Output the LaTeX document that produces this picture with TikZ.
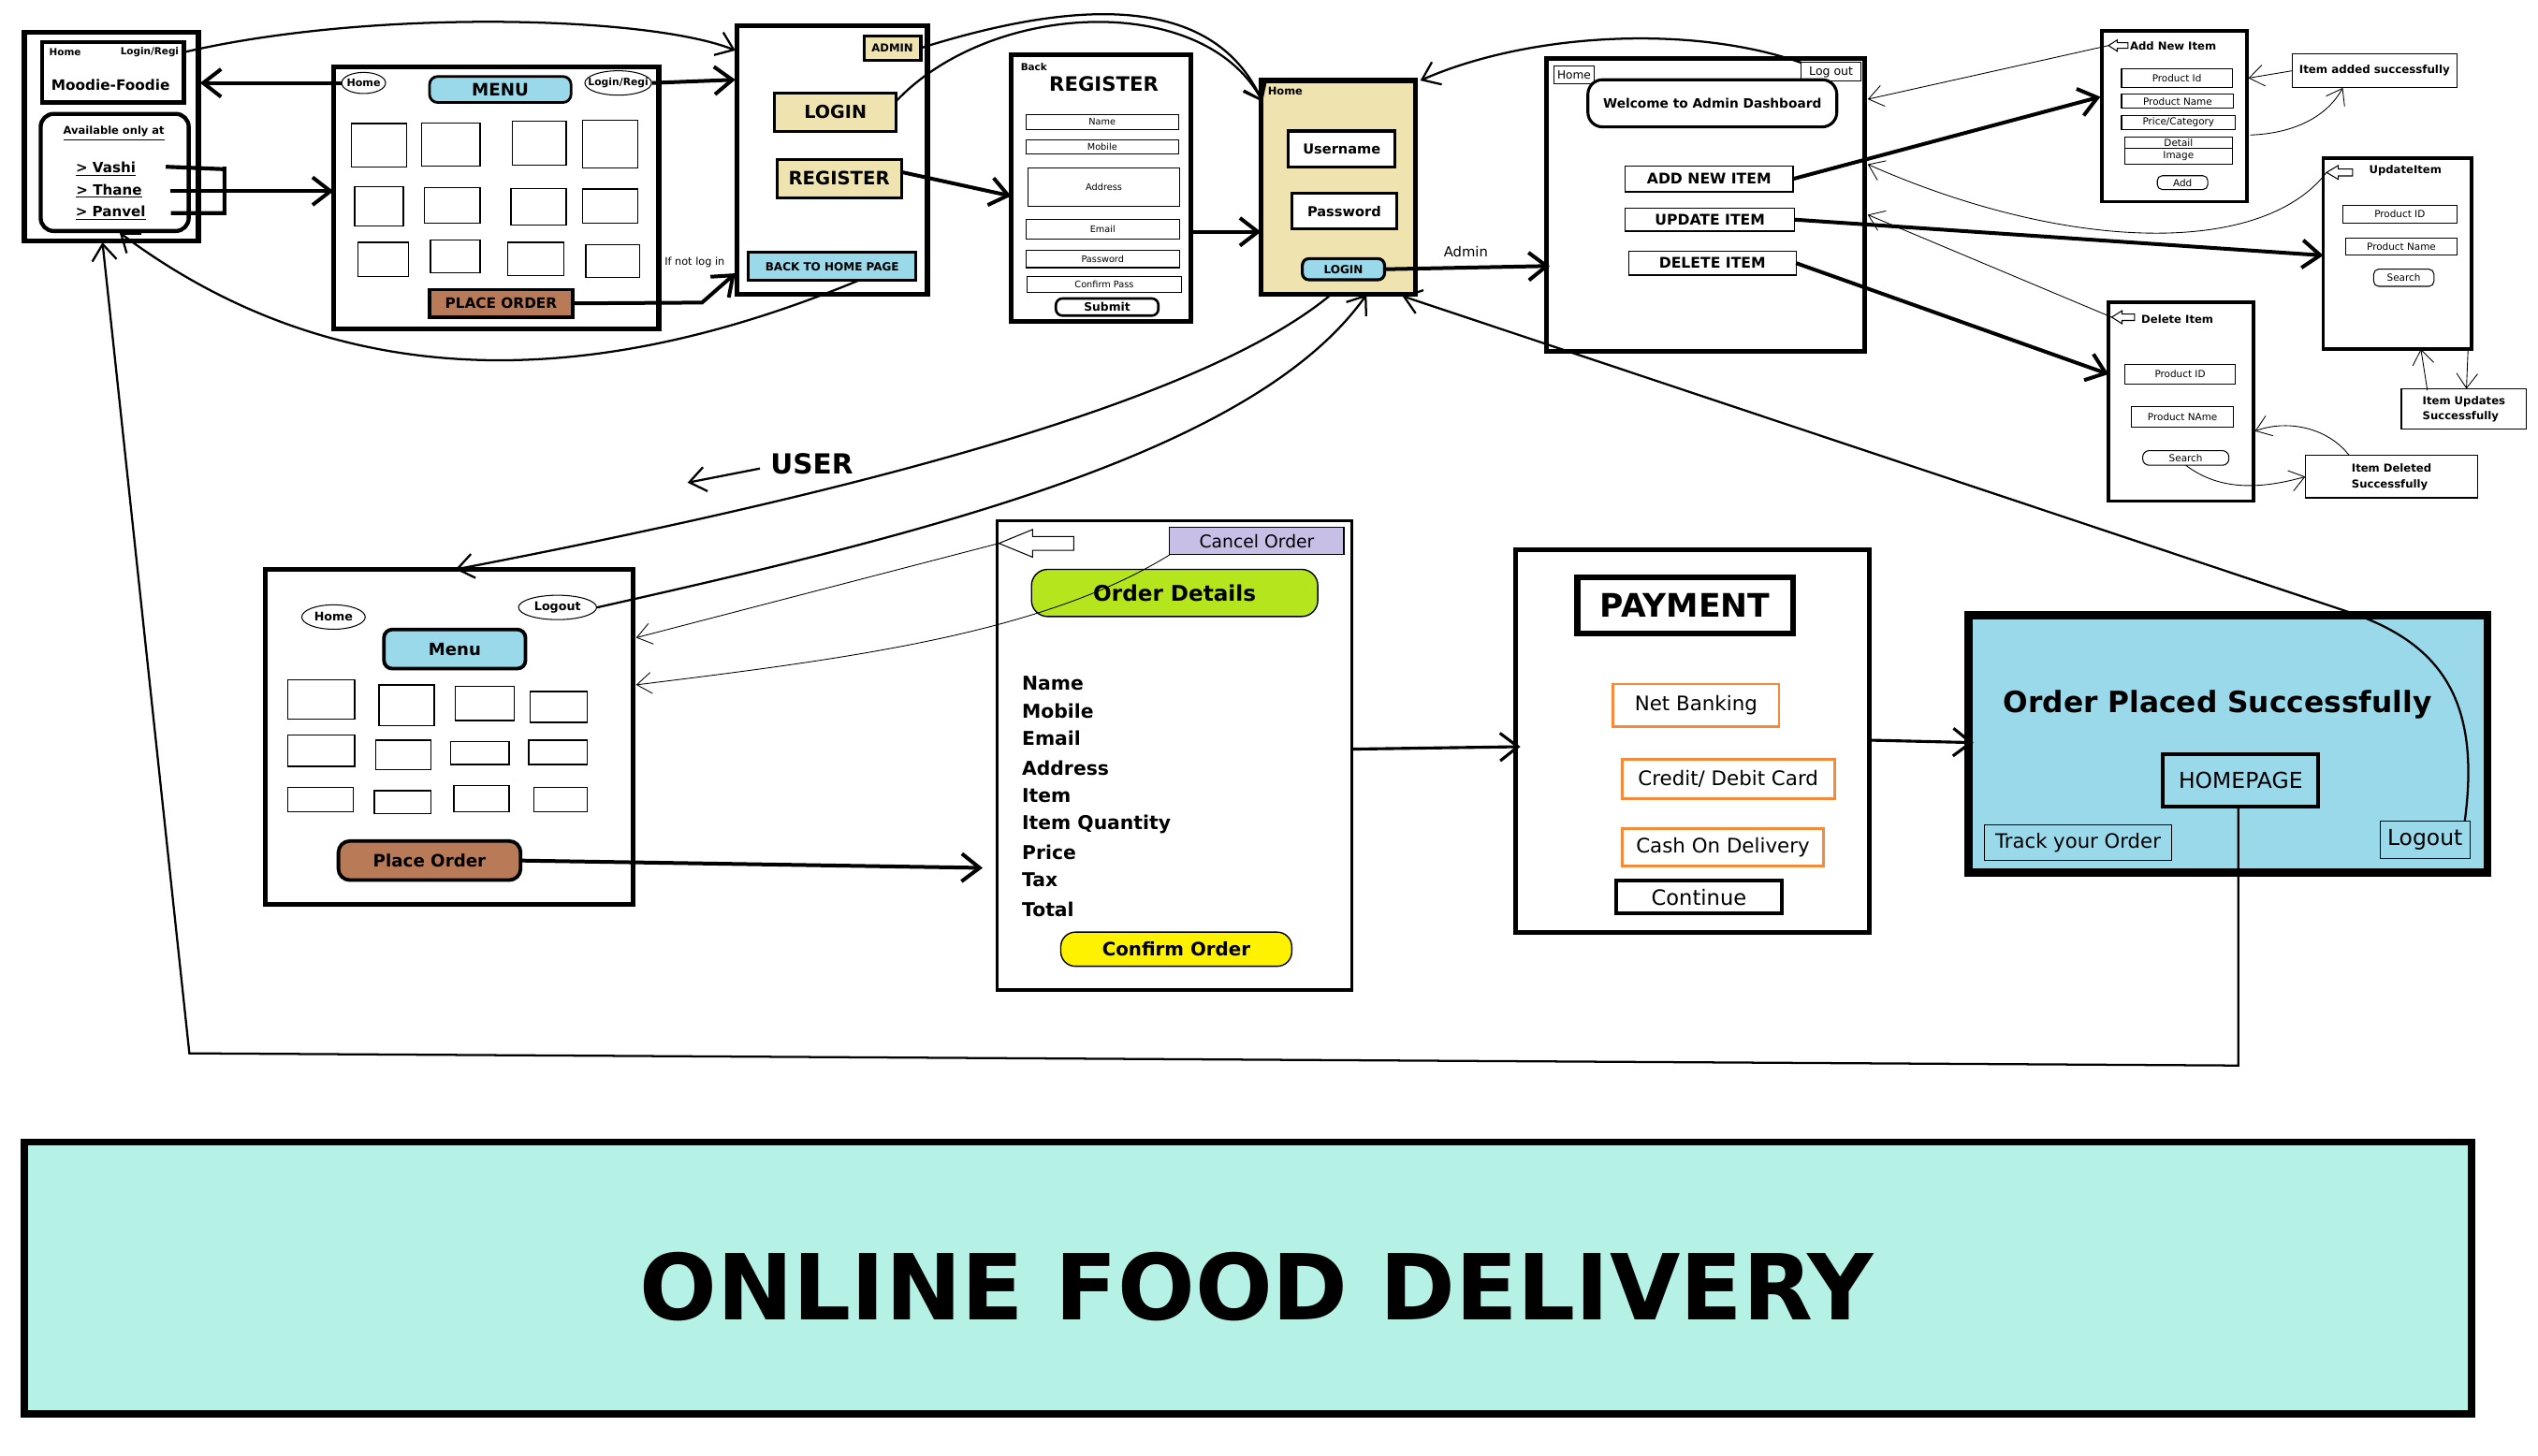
\documentclass[tikz,border=0pt]{standalone}
\usepackage{fontspec}
\setmainfont{DejaVu Sans}
\usetikzlibrary{arrows.meta,shapes.geometric,calc}
\newcommand\fsz[1]{\fontsize{#1}{#1}\selectfont}
\newcommand\mybox[7]{\node[#2,anchor=north west,inner sep=0pt,outer sep=0pt,minimum width={(#5)-(#3)},minimum height={(#6)-(#4)}] (#1) at (#3,#4) {#7};}
\newcommand\backicon[4]{\draw[line width=0.6pt,fill=white] (#1,#2) -- ++({0.45*#3},{-0.5*#4}) -- ++(0,{0.25*#4}) -- ++({0.55*#3},0) -- ++(0,{0.5*#4}) -- ++({-0.55*#3},0) -- ++(0,{0.25*#4}) -- cycle;}
\definecolor{cblue}{HTML}{99D9EA}
\definecolor{ctan}{HTML}{EFE4B0}
\definecolor{cbrown}{HTML}{B97A57}
\definecolor{cgreen}{HTML}{B5E61D}
\definecolor{cyellow}{HTML}{FFF200}
\definecolor{clav}{HTML}{C8BFE7}
\definecolor{corange}{HTML}{F58A3A}
\definecolor{cbanner}{HTML}{B6F1E6}
\begin{document}
\begin{tikzpicture}[x=1pt,y=-1pt,
  frame/.style={draw,line width=3pt},
  arr/.style={line width=2.3pt,-{Straight Barb[length=11pt,width=17pt]}},
  arrb/.style={line width=1.8pt,-{Straight Barb[length=11pt,width=17pt]}},
  marr/.style={line width=1.3pt,-{Straight Barb[length=10pt,width=15pt]}},
  harr/.style={line width=0.5pt,-{Straight Barb[length=9pt,width=13pt]}},
  sq/.style={line width=0.8pt},
  fld/.style={draw,line width=0.6pt,font=\fsz{5.6}},
  fldb/.style={draw,line width=0.6pt,font=\fsz{6}},
  oran/.style={draw=corange,line width=1.6pt,font=\fsz{12.3}},
  ell/.style={draw,ellipse,line width=0.6pt,inner sep=0pt}]
\useasboundingbox (0,0) rectangle (1560,895);
\fill[white] (0,0) rectangle (1560,895);

% ---------- A : home page ----------
\mybox{A}{frame}{15}{20}{122}{148}{}
\mybox{Atop}{draw,line width=2.5pt}{26}{26}{113}{63}{}
\node[font=\fsz{6}\bfseries] (aHome) at (40,32) {Home};
\node[font=\fsz{6}\bfseries] (aLogin) at (92,32) {Login/Regi};
\node[font=\fsz{8.8}\bfseries] (aTitle) at (68,52) {Moodie-Foodie};
\mybox{Aloc}{draw,line width=2.5pt,rounded corners=8pt}{25}{70}{116}{142}{}
\node[font=\fsz{6.6}\bfseries] (aAvail) at (70,82) {\underline{Available only at}};
\node[font=\fsz{8.7}\bfseries] (vashi) at (65,104) {\underline{> Vashi}};
\node[font=\fsz{8.7}\bfseries] (thane) at (67,117.5) {\underline{> Thane}};
\node[font=\fsz{8.7}\bfseries] (panvel) at (68,131) {\underline{> Panvel}};

% ---------- B : menu ----------
\mybox{B}{frame}{205}{41}{405}{202}{}
\node[ell,minimum width=27,minimum height=13] (mHome) at (223.5,51) {};
\node[font=\fsz{6.4}\bfseries] at (mHome) {Home};
\mybox{mMenu}{draw,line width=1.6pt,fill=cblue,rounded corners=5pt,font=\fsz{10.5}\bfseries}{264}{47}{351}{63}{MENU}
\node[ell,minimum width=41,minimum height=15] (mLogin) at (380,51) {};
\node[font=\fsz{6.2}\bfseries] at (mLogin) {Login/Regi};
\foreach \xa/\ya/\xb/\yb in {216/76/250/102.6, 259/75.5/295/102, 315/74.4/348/101.6, 358/73.8/392/103.2,
  218/114.7/248/138.8, 261/115.2/295/137.3, 314/115.8/348/138.2, 358/116.2/392/137.3,
  220/149/251/170, 264.5/147.4/295/167.8, 312/149/346.6/169.5, 360/150.3/393/170.6}
  \draw[sq] (\xa,\ya) rectangle (\xb,\yb);
\mybox{mPO}{draw,line width=1.8pt,fill=cbrown,font=\fsz{8.8}\bfseries}{264}{178}{352}{195}{PLACE ORDER}
\node[font=\fsz{6.5}] (ifnot) at (427,161) {If not log in};

% ---------- C : login / register ----------
\mybox{C}{frame}{453}{16}{570}{181}{}
\mybox{cAdmin}{draw,line width=1.8pt,fill=ctan,font=\fsz{6.7}\bfseries}{531}{22}{566}{37}{ADMIN}
\mybox{cLogin}{draw,line width=1.8pt,fill=ctan,font=\fsz{11}\bfseries}{476}{57}{551}{81}{LOGIN}
\mybox{cReg}{draw,line width=1.8pt,fill=ctan,font=\fsz{11.3}\bfseries}{477.5}{98}{554}{121.5}{REGISTER}
\mybox{cBack}{draw,line width=1.8pt,fill=cblue,font=\fsz{6.9}\bfseries}{460}{155}{563}{172.5}{BACK TO HOME PAGE}

% ---------- E : register form ----------
\mybox{E}{frame}{621.5}{33.5}{732}{197.5}{}
\node[font=\fsz{6}\bfseries] (eBack) at (635.5,41) {Back};
\node[font=\fsz{12.2}\bfseries] (eTitle) at (678.5,51.5) {REGISTER};
\mybox{eName}{fld}{630.5}{70.5}{724.5}{79.5}{Name}
\mybox{eMob}{fld}{630.5}{86}{724.5}{94.5}{Mobile}
\mybox{eAddr}{fld}{632}{103}{725}{127}{Address}
\mybox{eEmail}{fld}{630.5}{135}{725}{147}{Email}
\mybox{ePass}{fld}{630.5}{154}{725}{164.5}{Password}
\mybox{eConf}{fld}{631.5}{170}{726}{180}{Confirm Pass}
\mybox{eSub}{draw,line width=1.5pt,rounded corners=4pt,font=\fsz{7.1}\bfseries}{649}{183.5}{712}{194}{Submit}

% ---------- D : admin login ----------
\mybox{D}{frame,fill=ctan}{775}{49.5}{870}{181}{}
\node[font=\fsz{6.6}\bfseries] (dHome) at (790,56) {Home};
\mybox{dUser}{draw,line width=1.8pt,fill=white,font=\fsz{8.4}\bfseries}{792}{80.5}{857.5}{102.5}{Username}
\mybox{dPass}{draw,line width=1.8pt,fill=white,font=\fsz{8.4}\bfseries}{794}{119}{858.5}{140.5}{Password}
\mybox{dLogin}{draw,line width=1.8pt,fill=cblue,rounded corners=4pt,font=\fsz{6.9}\bfseries}{800.5}{159}{851}{172}{LOGIN}
\node[font=\fsz{8.5}] (adminLbl) at (901,155) {Admin};

% ---------- F : admin dashboard ----------
\mybox{F}{frame}{950.5}{36}{1146}{216}{}
\mybox{fHome}{draw,line width=0.6pt,font=\fsz{7}}{955}{40.5}{980}{51.5}{Home}
\mybox{fLogout}{draw,line width=0.6pt,fill=white,font=\fsz{7.2}}{1107}{38.5}{1144}{50}{Log out}
\mybox{fWel}{draw,line width=1.8pt,rounded corners=9pt,fill=white,font=\fsz{7.9}\bfseries}{976}{49}{1129}{78}{Welcome to Admin Dashboard}
\mybox{fAdd}{draw,line width=0.8pt,font=\fsz{9}\bfseries}{999}{102}{1102}{118}{ADD NEW ITEM}
\mybox{fUpd}{draw,line width=0.8pt,font=\fsz{9}\bfseries}{999}{128}{1103}{142}{UPDATE ITEM}
\mybox{fDel}{draw,line width=0.8pt,font=\fsz{9}\bfseries}{1001}{154.5}{1104}{169}{DELETE ITEM}

% ---------- H : add new item ----------
\mybox{H}{draw,line width=2.2pt}{1292}{19}{1381}{124}{}
\backicon{1296}{28}{12}{7}
\coordinate (hIcon) at (1296,28);
\node[font=\fsz{6.7}\bfseries,anchor=west,inner sep=0pt] (hTitle) at (1309,28) {Add New Item};
\mybox{hPid}{fldb}{1304}{42.5}{1372}{54}{Product Id}
\mybox{hPname}{fldb}{1304}{58}{1373}{66.5}{Product Name}
\mybox{hPrice}{fldb}{1304}{71}{1374}{79.5}{Price/Category}
\mybox{hDet}{fldb}{1306}{84.5}{1372}{91}{Detail}
\mybox{hImg}{fldb}{1306}{91}{1372}{101}{Image}
\mybox{hAdd}{draw,line width=0.6pt,rounded corners=3pt,font=\fsz{6}}{1326}{108}{1357}{116.5}{Add}
\mybox{ias}{draw,line width=0.6pt,font=\fsz{6.8}\bfseries}{1409}{33}{1510}{54}{Item added successfully}

% ---------- I : update item ----------
\mybox{I}{draw,line width=2.2pt}{1428}{97}{1519}{214.5}{}
\backicon{1430}{106}{16}{8.5}
\coordinate (iIcon) at (1430,106);
\node[font=\fsz{6.7}\bfseries,anchor=west,inner sep=0pt] (iTitle) at (1456,105) {UpdateItem};
\mybox{iPid}{fldb}{1440}{126}{1510}{137}{Product ID}
\mybox{iPname}{fldb}{1442}{146.5}{1510}{157}{Product Name}
\mybox{iSearch}{draw,line width=0.6pt,rounded corners=3pt,font=\fsz{6}}{1459}{165.5}{1496}{176}{Search}
\mybox{ius}{draw,line width=0.6pt,font=\fontsize{6.7}{9.6}\selectfont\bfseries,align=left}{1476}{239}{1553}{264}{Item Updates\\Successfully}

% ---------- J : delete item ----------
\mybox{J}{draw,line width=2.2pt}{1296}{186}{1385}{308}{}
\backicon{1298}{195}{14}{8}
\coordinate (jIcon) at (1298,195);
\node[font=\fsz{6.7}\bfseries,anchor=west,inner sep=0pt] (jTitle) at (1316,196.5) {Delete Item};
\mybox{jPid}{fldb}{1306}{224}{1374}{236}{Product ID}
\mybox{jPname}{fldb}{1310}{250}{1373}{262.5}{Product NAme}
\mybox{jSearch}{draw,line width=0.6pt,rounded corners=4pt,font=\fsz{6}}{1317}{277}{1370}{286}{Search}
\mybox{ids}{draw,line width=0.6pt,font=\fontsize{6.7}{9.8}\selectfont\bfseries,align=left}{1417}{280}{1523}{306}{Item Deleted\\Successfully}

% ---------- USER ----------
\node[font=\fsz{17}\bfseries] (user) at (499,285) {USER};
\coordinate (userTip) at (422.6,296.7);

% ---------- G : user home ----------
\mybox{G}{frame}{163}{350}{389}{556}{}
\node[ell,minimum width=39,minimum height=15] (gHome) at (205,379.3) {};
\node[font=\fsz{7.3}\bfseries] at (gHome) {Home};
\node[ell,minimum width=48,minimum height=15] (gLogout) at (342.7,373.4) {};
\node[font=\fsz{7.3}\bfseries] at (gLogout) {Logout};
\mybox{gMenu}{draw,line width=2.2pt,fill=cblue,rounded corners=5pt,font=\fsz{10.4}\bfseries}{236}{387}{323}{411}{Menu}
\foreach \xa/\ya/\xb/\yb in {177/418/218/442, 233/421/267/446, 280/422/316/443, 326/425/361/444,
  177/452/218/471, 231/455/265/473, 277/456/313/470, 325/455/361/470,
  177/484/217/499, 230/486/265/500, 279/483/313/499, 328/484/361/499}
  \draw[sq] (\xa,\ya) rectangle (\xb,\yb);
\mybox{gPO}{draw,line width=2.2pt,fill=cbrown,rounded corners=7pt,font=\fsz{10.5}\bfseries}{208}{517}{320}{541}{Place Order}

% ---------- K : order details ----------
\mybox{K}{draw,line width=2pt}{613}{320}{831}{608.5}{}
\mybox{kCancel}{draw,line width=0.6pt,fill=clav,font=\fsz{10.8}}{719}{324}{826}{341}{Cancel Order}
\backicon{614}{334}{46}{17}
\coordinate (kIcon) at (614,334);
\mybox{kOD}{draw,line width=0.8pt,fill=cgreen,rounded corners=10pt,font=\fsz{13.3}\bfseries}{634}{350}{810}{379}{Order Details}
\foreach \t/\yy/\nm in {Name/420/kL1, Mobile/437/kL2, Email/454/kL3, Address/472/kL4, Item/489/kL5, Item Quantity/507/kL6, Price/524/kL7, Tax/541/kL8, Total/559/kL9}
  \node[font=\fsz{11.7}\bfseries,anchor=west,inner sep=0pt] (\nm) at (628,\yy) {\t};
\mybox{kConf}{draw,line width=0.8pt,fill=cyellow,rounded corners=9pt,font=\fsz{11.4}\bfseries}{652}{573}{794}{594}{Confirm Order}

% ---------- L : payment ----------
\mybox{L}{frame}{931.5}{338}{1149}{573}{}
\mybox{lPay}{draw,line width=3.5pt,font=\fsz{19.9}\bfseries}{969.5}{355}{1102}{389.5}{PAYMENT}
\mybox{lNet}{oran}{991.5}{420.5}{1093.5}{446.5}{Net Banking}
\mybox{lCard}{oran}{997}{467}{1127.5}{491}{Credit/ Debit Card}
\mybox{lCash}{oran}{997}{509.5}{1121}{532.5}{Cash On Delivery}
\mybox{lCont}{draw,line width=2.2pt,font=\fsz{13}}{993.5}{541.5}{1095}{561.5}{Continue}

% ---------- M : order placed ----------
\mybox{M}{draw,line width=5pt,fill=cblue}{1210}{378}{1529}{536.5}{}
\node[font=\fsz{18}\bfseries] (mOPS) at (1363,433) {Order Placed Successfully};
\mybox{mHP}{draw,line width=2.2pt,font=\fsz{13.5}}{1329.5}{463.5}{1425}{496}{HOMEPAGE}
\mybox{mTrack}{draw,line width=0.6pt,font=\fsz{12.2}}{1219.5}{507}{1335}{529}{Track your Order}
\mybox{mLogout}{draw,line width=0.6pt,font=\fsz{13.5}}{1463}{504.5}{1518}{528}{Logout}

% ---------- banner ----------
\mybox{banner}{draw,line width=4.5pt,fill=cbanner}{15}{702}{1519}{869}{}
\node[font=\fsz{56}\bfseries] (bannerText) at (772.5,791) {ONLINE FOOD DELIVERY};

% ================= connectors =================
\coordinate (jn) at (thane.east -| 138,0);
\draw[line width=2.4pt] ($(vashi.east)+(15,-1.5)$) -- (vashi.east -| jn) ++(0,-1.5) -- (panvel.east -| jn) -- ($(panvel.east)+(12,0)$);
\draw[line width=2.4pt] ($(thane.east)+(14,0)$) -- (jn);
\draw[arr] (jn) -- (B.west |- jn);

\draw[arr] (mHome.west) -- ($(A.north east)+(1,31)$);
\draw[arr] (mLogin.east) -- ($(C.north west)+(-1,33)$);
\coordinate (poBend) at (431.5,186);
\draw[arr] (mPO.east) -- (poBend) -- ($(C.north west)+(-1,152)$);
\draw[marr] (aLogin.east) .. controls (230,5) and (400,10) .. ($(C.north west)+(-1,15)$);
\draw[marr] ($(cBack.south)+(16,0)$) .. controls (400,225) and (230,260) .. ($(A.south)+(5,-5)$);
\draw[marr] (cAdmin.east) .. controls (660,0) and (745,-5) .. ($(D.north west)+(1,13)$);
\draw[marr] ($(cLogin.north east)+(0,5)$) .. controls (610,0) and (740,-5) .. ($(D.north west)+(1,13)$);
\draw[arr] ($(cReg.east)+(0,-4)$) -- ($(E.north west)+(0,87)$);
\draw[arr] ($(E.north east)+(0,109)$) -- ($(D.north west)+(0,93)$);
\draw[arr] (dLogin.east) -- ($(F.north west)+(2,127.5)$);
\draw[marr] (fLogout.north west) .. controls (1040,15) and (940,20) .. ($(D.north east)+(3,0)$);

\draw[arr] (fAdd.east) -- ($(H.north west)+(-1,40.5)$);
\draw[arr] (fUpd.east) -- ($(I.north west)+(0,60)$);
\draw[arr] (fDel.east) -- ($(J.north west)+(0,44)$);
\draw[harr] (hIcon) -- ($(F.north east)+(2,25)$);
\draw[harr] (iIcon) .. controls (1390,158) and (1270,155) .. ($(F.north east)+(2,65)$);
\draw[harr] (jIcon) -- ($(F.north east)+(2,96)$);
\draw[harr] (ias.west) -- ($(H.north east)+(1,29)$);
\draw[harr] ($(H.north east)+(2,64)$) .. controls (1410,82) and (1430,72) .. ($(ias.south west)+(31,0)$);
\draw[harr] ($(ius.north west)+(16,1)$) -- ($(I.south west)+(60,0)$);
\draw[harr] ($(I.south east)+(-2,0)$) -- ($(ius.north east)+(-37,0)$);
\draw[harr] (jSearch.south) .. controls (1362,300) and (1385,302) .. (ids.west);
\draw[harr] ($(ids.north west)+(27,0)$) .. controls (1430,262) and (1405,258) .. ($(J.north east)+(1,79)$);

\draw[marr] ($(D.south)+(-5.5,1)$) .. controls (740,245) and (540,300) .. ($(G.north west)+(117,0)$);
\draw[marr] (gLogout.east) .. controls (560,330) and (770,280) .. ($(D.south)+(17.5,0)$);
\coordinate (bendM) at (1443,376);
\draw[marr] ($(mLogout.north east)+(-3,0)$) .. controls (1525,430) and (1500,395) .. (bendM) -- ($(D.south east)+(-8,1)$);
\draw[marr] ($(user.west)+(-3,3)$) -- (userTip);

\draw[harr] (kIcon) -- ($(G.north east)+(2,42)$);
\draw[harr] (kCancel.south west) .. controls (640,390) and (520,405) .. ($(G.north east)+(2,71)$);
\draw[arr] (gPO.east) -- ($(K.north west)+(-9,213.5)$);
\draw[arrb] ($(K.north east)+(0,140.5)$) -- ($(L.north west)+(3,121)$);
\draw[arrb] ($(L.north east)+(0,117)$) -- ($(M.north west)+(3,78.5)$);

\coordinate (bl) at (116.4,647.5);
\draw[marr] ($(mHP.south)+(-1.5,0)$) -- ++(0,159) -- (bl) -- ($(A.south)+(-5.5,1)$);
\end{tikzpicture}
\end{document}
